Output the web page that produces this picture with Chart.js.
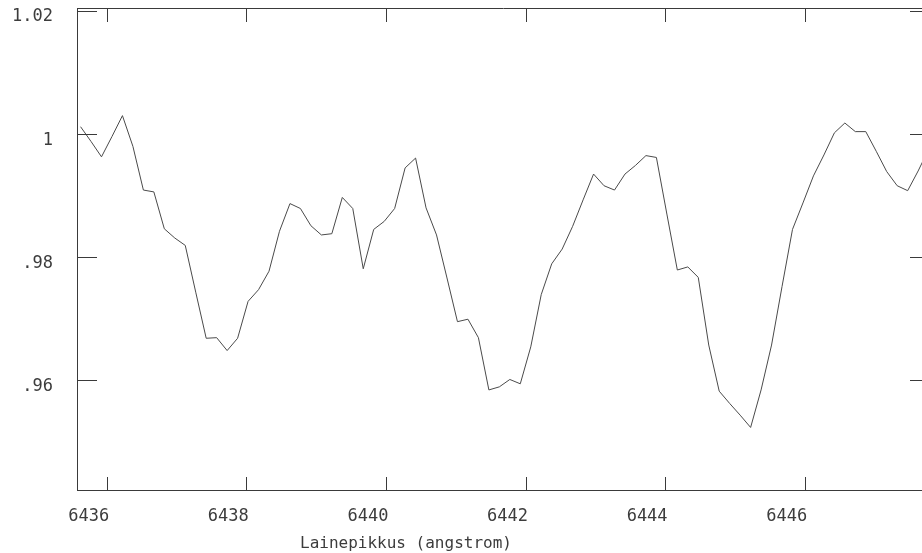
<!DOCTYPE html>
<html>
<head>
<meta charset="utf-8">
<script src="https://cdn.jsdelivr.net/npm/chart.js@4"></script>
<style>
  html, body { margin: 0; padding: 0; background: #fff; overflow: hidden; }
  #spectrum { display: block; }
</style>
</head>
<body>
<canvas id="spectrum" width="932" height="553"></canvas>
<script>
// Wavelengths (angstrom) and relative flux
const wavelengths = [
  6435.625, 6435.775, 6435.925, 6436.075, 6436.225, 6436.375, 6436.525, 6436.675, 6436.825, 6436.975,
  6437.125, 6437.275, 6437.425, 6437.575, 6437.725, 6437.875, 6438.025, 6438.175, 6438.325, 6438.475,
  6438.625, 6438.775, 6438.925, 6439.075, 6439.225, 6439.375, 6439.525, 6439.675, 6439.825, 6439.975,
  6440.125, 6440.275, 6440.425, 6440.575, 6440.725, 6440.875, 6441.025, 6441.175, 6441.325, 6441.475,
  6441.625, 6441.775, 6441.925, 6442.075, 6442.225, 6442.375, 6442.525, 6442.675, 6442.825, 6442.975,
  6443.125, 6443.275, 6443.425, 6443.575, 6443.725, 6443.875, 6444.025, 6444.175, 6444.325, 6444.475,
  6444.625, 6444.775, 6444.925, 6445.075, 6445.225, 6445.375, 6445.525, 6445.675, 6445.825, 6445.975,
  6446.125, 6446.275, 6446.425, 6446.575, 6446.725, 6446.875, 6447.025, 6447.175, 6447.325, 6447.475,
  6447.625, 6447.775
];
const flux = [
  1.0012, 0.9988, 0.9963, 0.9996, 1.0030, 0.9980, 0.9909, 0.9906, 0.9846, 0.9831,
  0.9819, 0.9743, 0.9668, 0.9669, 0.9648, 0.9668, 0.9728, 0.9747, 0.9777, 0.9842,
  0.9887, 0.9879, 0.9851, 0.9836, 0.9838, 0.9897, 0.9879, 0.9781, 0.9845, 0.9858,
  0.9879, 0.9945, 0.9961, 0.9880, 0.9836, 0.9766, 0.9695, 0.9699, 0.9669, 0.9584,
  0.9589, 0.9601, 0.9594, 0.9654, 0.9739, 0.9789, 0.9813, 0.9850, 0.9893, 0.9935,
  0.9916, 0.9909, 0.9935, 0.9949, 0.9965, 0.9962, 0.9870, 0.9779, 0.9784, 0.9767,
  0.9657, 0.9582, 0.9562, 0.9543, 0.9523, 0.9584, 0.9657, 0.9752, 0.9845, 0.9888,
  0.9932, 0.9966, 1.0002, 1.0018, 1.0004, 1.0004, 0.9972, 0.9939, 0.9916, 0.9908,
  0.9940, 0.9975
];

const xTicks = [6436, 6438, 6440, 6442, 6444, 6446];
const xTickLabels = ['6436', '6438', '6440', '6442', '6444', '6446'];
const yTicks = [0.96, 0.98, 1.00, 1.02];
const yTickLabels = ['.96', '.98', '1', '1.02'];
const xTitle = 'Lainepikkus (angstrom)';

const axisColor = '#3a3a3a';
const textColor = '#3c3c3c';
const monoFont = { family: '"DejaVu Sans Mono", "Liberation Mono", monospace', size: 17 };

// frame top line, inward tick marks and the x axis title
const framePlugin = {
    id: 'frame',
    afterDraw(chart) {
        const ctx = chart.ctx;
        const area = chart.chartArea;
        const xs = chart.scales.x;
        const ys = chart.scales.y;
        ctx.save();
        ctx.strokeStyle = axisColor;
        ctx.lineWidth = 1;
        ctx.beginPath();
        ctx.moveTo(area.left, area.top + 0.5);
        ctx.lineTo(area.right, area.top + 0.5);
        xTicks.forEach(v => {
            const px = Math.round(xs.getPixelForValue(v)) + 0.5;
            ctx.moveTo(px, area.bottom);
            ctx.lineTo(px, area.bottom - 13);
            ctx.moveTo(px, area.top);
            ctx.lineTo(px, area.top + 14);
        });
        yTicks.forEach(v => {
            const py = Math.round(ys.getPixelForValue(v)) + 0.5;
            ctx.moveTo(area.left, py);
            ctx.lineTo(area.left + 20, py);
            ctx.moveTo(area.right, py);
            ctx.lineTo(area.right - 20, py);
        });
        ctx.stroke();

        ctx.fillStyle = textColor;
        ctx.font = '16px ' + monoFont.family;
        ctx.textAlign = 'left';
        ctx.textBaseline = 'middle';
        ctx.fillText(xTitle, xs.left + 223, 544);
        ctx.restore();
    }
};

new Chart(document.getElementById('spectrum'), {
    type: 'line',
    data: {
        labels: wavelengths,
        datasets: [{
            data: flux,
            borderColor: '#4a4a4a',
            borderWidth: 1,
            pointRadius: 0,
            tension: 0,
            fill: false
        }]
    },
    options: {
        responsive: false,
        animation: false,
        layout: { padding: { top: 8, right: 2, left: 0, bottom: 0 } },
        plugins: {
            legend: { display: false },
            tooltip: { enabled: false }
        },
        scales: {
            x: {
                type: 'linear',
                min: 6435.574,
                max: 6447.795,
                grid: { display: false, drawTicks: false },
                border: { display: true, color: axisColor, width: 1 },
                afterBuildTicks: scale => { scale.ticks = xTicks.map(v => ({ value: v })); },
                afterFit: scale => {
                    scale.height = 63;
                    scale.paddingLeft = 0;
                    scale.paddingRight = 0;
                },
                ticks: {
                    color: textColor,
                    font: monoFont,
                    padding: 16,
                    labelOffset: -18,
                    maxRotation: 0,
                    autoSkip: false,
                    callback: function(value) {
                        const i = xTicks.indexOf(value);
                        return i >= 0 ? xTickLabels[i] : '';
                    }
                }
            },
            y: {
                min: 0.94213,
                max: 1.0205,
                grid: { display: false, drawTicks: false },
                border: { display: true, color: axisColor, width: 1 },
                afterBuildTicks: scale => { scale.ticks = yTicks.map(v => ({ value: v })); },
                afterFit: scale => {
                    scale.width = 77;
                    scale.paddingTop = 0;
                    scale.paddingBottom = 0;
                },
                ticks: {
                    color: textColor,
                    font: monoFont,
                    padding: 24,
                    labelOffset: 6,
                    autoSkip: false,
                    callback: function(value) {
                        const i = yTicks.findIndex(t => Math.abs(t - value) < 1e-9);
                        return i >= 0 ? yTickLabels[i] : '';
                    }
                }
            }
        }
    },
    plugins: [framePlugin]
});
</script>
</body>
</html>
